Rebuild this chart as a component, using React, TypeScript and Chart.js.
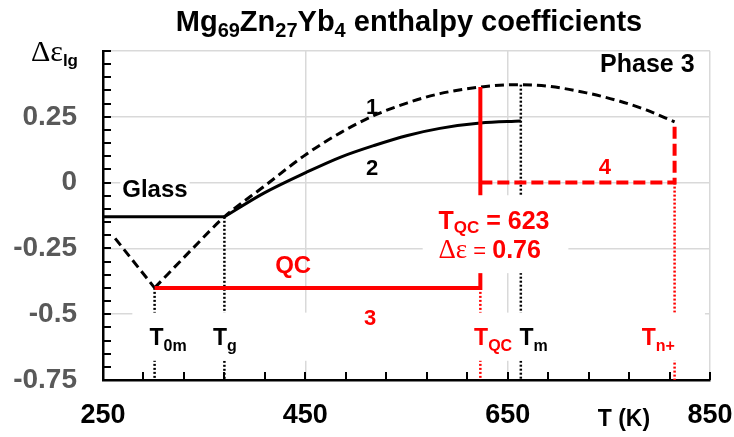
import React, { useEffect, useRef } from 'react';
import { Chart, registerables } from 'chart.js';

Chart.register(...registerables);

// ---------- data ----------
const X_MIN = 250;
const X_MAX = 850;
const X_STEP = 40;
const X_LABEL_STEP = 200;
const Y_MIN = -0.75;
const Y_MAX = 0.5;
const Y_STEP = 0.05;
const Y_LABEL_STEP = 0.25;

// characteristic temperatures (K)
const T_0M = 301;
const T_G = 370;
const T_QC = 623;
const T_M = 663;
const T_NPLUS = 815;

// curve 1 (dashed)
const curve1LeftT = [262, 301];
const curve1LeftE = [-0.212, -0.4];
const curve1T = [301, 340, 370, 409, 451, 485, 518, 551, 583, 623, 656, 688, 728, 761, 787, 815];
const curve1E = [-0.4, -0.245, -0.13, -0.015, 0.108, 0.19, 0.255, 0.303, 0.338, 0.363, 0.372, 0.367, 0.341, 0.309, 0.276, 0.231];

// glass line and curve 2 (solid)
const glassT = [250, 370];
const glassE = [-0.13, -0.13];
const curve2T = [370, 409, 451, 485, 518, 551, 583, 623, 663];
const curve2E = [-0.13, -0.04, 0.039, 0.097, 0.141, 0.179, 0.206, 0.226, 0.234];

// red construction lines
const qcLineT = [T_0M, T_QC, T_QC];
const qcLineE = [-0.4, -0.4, 0.363];
const phase4T = [T_QC, T_NPLUS, T_NPLUS];
const phase4E = [0, 0, 0.231];

// vertical dotted markers: [T, top value]
const blackMarkersT = [T_0M, T_G, T_M];
const blackMarkersTop = [-0.4, -0.13, 0.372];
const redMarkersT = [T_QC, T_NPLUS];
const redMarkersTop = [-0.4, 0];

const SANS = "'Liberation Sans', Arial, Helvetica, sans-serif";
const SERIF = "'Liberation Serif', 'Times New Roman', serif";
const RED = '#ff0000';
const GRID = '#d9d9d9';

type Seg = { t: string; size: number; sub?: number; serif?: boolean; normal?: boolean };

function fontOf(s: Seg) {
  return `${s.normal ? '' : 'bold '}${s.size}px ${s.serif ? SERIF : SANS}`;
}

function richWidth(ctx: CanvasRenderingContext2D, segs: Seg[]) {
  let w = 0;
  for (const s of segs) {
    ctx.font = fontOf(s);
    w += ctx.measureText(s.t).width;
  }
  return w;
}

function drawRich(
  ctx: CanvasRenderingContext2D,
  segs: Seg[],
  x: number,
  y: number,
  align: 'left' | 'center' | 'right',
  color: string,
  bg?: boolean
) {
  const w = richWidth(ctx, segs);
  let cx = align === 'left' ? x : align === 'center' ? x - w / 2 : x - w;
  if (bg) {
    ctx.fillStyle = '#fff';
    ctx.fillRect(cx - 2, y - segs[0].size * 0.78, w + 4, segs[0].size * 1.0);
  }
  ctx.fillStyle = color;
  ctx.textAlign = 'left';
  ctx.textBaseline = 'alphabetic';
  for (const s of segs) {
    ctx.font = fontOf(s);
    ctx.fillText(s.t, cx, y + (s.sub || 0));
    cx += ctx.measureText(s.t).width;
  }
}

const isMajor = (v: number, step: number) => Math.abs(Math.round(v / step) * step - v) < 1e-6;

const annotations = {
  id: 'annotations',
  afterDatasetsDraw(chart: any) {
    const { ctx, chartArea } = chart;
    const xs = chart.scales.x;
    const ys = chart.scales.y;
    const px = (t: number) => xs.getPixelForValue(t);
    const py = (v: number) => ys.getPixelForValue(v);
    ctx.save();

    // inside tick marks
    ctx.strokeStyle = '#000';
    ctx.lineWidth = 2;
    ctx.beginPath();
    for (const tk of ys.ticks) {
      const yy = Math.round(py(tk.value));
      ctx.moveTo(chartArea.left, yy);
      ctx.lineTo(chartArea.left + 8, yy);
    }
    for (const tk of xs.ticks) {
      const xx = Math.round(px(tk.value));
      ctx.moveTo(xx, chartArea.bottom);
      ctx.lineTo(xx, chartArea.bottom - 8);
    }
    ctx.stroke();

    // white text boxes
    ctx.fillStyle = '#fff';
    const box = (t0: number, t1: number, v0: number, v1: number) =>
      ctx.fillRect(px(t0), py(v0), px(t1) - px(t0), py(v1) - py(v0));
    box(566, 710, -0.048, -0.344);
    box(279, 845, -0.494, -0.677);

    // curve labels
    drawRich(ctx, [{ t: 'Glass', size: 24 }], px(269), py(-0.056), 'left', '#000', true);
    drawRich(ctx, [{ t: '1', size: 22 }], px(516), py(0.262), 'center', '#000');
    drawRich(ctx, [{ t: '2', size: 22 }], px(516), py(0.029), 'center', '#000');
    drawRich(ctx, [{ t: 'QC', size: 24 }], px(438), py(-0.345), 'center', RED);
    drawRich(ctx, [{ t: '3', size: 22 }], px(514), py(-0.541), 'center', RED);
    drawRich(ctx, [{ t: '4', size: 22 }], px(746), py(0.031), 'center', RED);
    drawRich(ctx, [{ t: 'Phase 3', size: 25 }], px(741.3), py(0.419), 'left', '#000');

    // TQC box text
    drawRich(
      ctx,
      [{ t: 'T', size: 25 }, { t: 'QC', size: 17, sub: 4 }, { t: ' = 623', size: 25 }],
      px(581.6), py(-0.178), 'left', RED
    );
    drawRich(
      ctx,
      [{ t: 'Δε', size: 27, serif: true, normal: true }, { t: ' = ', size: 22, normal: true }, { t: '0.76', size: 25 }],
      px(581.6), py(-0.288), 'left', RED
    );

    // temperature markers
    const tl = (main: string, sub: string, t: number, color: string) =>
      drawRich(ctx, [{ t: main, size: 23 }, { t: sub, size: 16, sub: 6 }], px(t), py(-0.617), 'left', color);
    tl('T', '0m', 296, '#000');
    tl('T', 'g', 358.7, '#000');
    tl('T', 'QC', 616.8, RED);
    tl('T', 'm', 661.6, '#000');
    tl('T', 'n+', 782.5, RED);

    ctx.restore();
  },
  afterDraw(chart: any) {
    const { ctx, chartArea } = chart;
    const xs = chart.scales.x;
    ctx.save();
    // title
    drawRich(
      ctx,
      [
        { t: 'Mg', size: 29 },
        { t: '69', size: 20, sub: 6 },
        { t: 'Zn', size: 29 },
        { t: '27', size: 20, sub: 6 },
        { t: 'Yb', size: 29 },
        { t: '4', size: 20, sub: 6 },
        { t: ' enthalpy coefficients', size: 29 },
      ],
      409, 31, 'center', '#000'
    );
    // y axis title
    drawRich(
      ctx,
      [{ t: 'Δε', size: 30, serif: true, normal: true }, { t: 'lg', size: 17, sub: 5 }],
      31, 61, 'left', '#000'
    );
    // x axis title
    drawRich(ctx, [{ t: 'T (K)', size: 23 }], xs.getPixelForValue(739), chartArea.bottom + 46, 'left', '#000');
    ctx.restore();
  },
};

function pts(xsArr: number[], ysArr: number[]) {
  return xsArr.map((x, i) => ({ x, y: ysArr[i] }));
}

export default function App() {
  const ref = useRef<HTMLCanvasElement>(null);

  useEffect(() => {
    if (!ref.current) return;
    const base = { pointRadius: 0, pointHoverRadius: 0, fill: false, borderCapStyle: 'butt' as const };
    const datasets: any[] = [
      { ...base, label: 'QC', data: pts(qcLineT, qcLineE), borderColor: RED, borderWidth: 4, tension: 0 },
      { ...base, label: 'phase4', data: pts(phase4T, phase4E), borderColor: RED, borderWidth: 4, borderDash: [12, 5], tension: 0 },
      { ...base, label: '1', data: pts(curve1T, curve1E), borderColor: '#000', borderWidth: 3, borderDash: [9, 5], cubicInterpolationMode: 'monotone' },
      { ...base, label: '1a', data: pts(curve1LeftT, curve1LeftE), borderColor: '#000', borderWidth: 3, borderDash: [9, 5], tension: 0 },
      { ...base, label: '2', data: pts(curve2T, curve2E), borderColor: '#000', borderWidth: 3, cubicInterpolationMode: 'monotone' },
      { ...base, label: 'glass', data: pts(glassT, glassE), borderColor: '#000', borderWidth: 3, tension: 0 },
      ...redMarkersT.map((t, i) => ({
        ...base, label: 'rm' + i, data: pts([t, t], [redMarkersTop[i], Y_MIN]), borderColor: RED, borderWidth: 2.5, borderDash: [2, 2],
      })),
      ...blackMarkersT.map((t, i) => ({
        ...base, label: 'bm' + i, data: pts([t, t], [blackMarkersTop[i], Y_MIN]), borderColor: '#000', borderWidth: 2.5, borderDash: [2, 2],
      })),
    ];

    const chart = new Chart(ref.current, {
      type: 'line',
      data: { datasets },
      options: {
        responsive: false,
        animation: false,
        devicePixelRatio: 1,
        layout: { padding: { left: 0, top: 51, right: 24, bottom: 0 } },
        plugins: { legend: { display: false }, tooltip: { enabled: false }, title: { display: false } },
        scales: {
          x: {
            type: 'linear',
            min: X_MIN,
            max: X_MAX,
            afterFit: (s: any) => {
              s.height = 57;
              s.paddingLeft = 0;
              s.paddingRight = 0;
            },
            ticks: {
              stepSize: X_STEP,
              autoSkip: false,
              maxRotation: 0,
              padding: 19,
              color: '#000',
              font: { family: SANS, size: 27, weight: 'bold' },
              callback: (v: any) => (isMajor(Number(v) - X_MIN, X_LABEL_STEP) ? String(v) : ''),
            },
            grid: {
              drawTicks: false,
              lineWidth: 1.5,
              color: (c: any) => {
                const v = c.tick ? c.tick.value : 0;
                return v > X_MIN && isMajor(v - X_MIN, X_LABEL_STEP) ? GRID : 'rgba(0,0,0,0)';
              },
            },
            border: { display: true, color: '#000', width: 2.5 },
          },
          y: {
            type: 'linear',
            min: Y_MIN,
            max: Y_MAX,
            afterFit: (s: any) => {
              s.width = 103;
              s.paddingTop = 0;
              s.paddingBottom = 0;
            },
            ticks: {
              stepSize: Y_STEP,
              autoSkip: false,
              padding: 26,
              color: '#595959',
              font: { family: SANS, size: 28, weight: 'bold' },
              callback: (v: any) => {
                const n = Number(v);
                if (!isMajor(n, Y_LABEL_STEP) || n >= Y_MAX - 1e-6) return '';
                return String(Math.round(n * 100) / 100);
              },
            },
            grid: {
              drawTicks: false,
              lineWidth: 1.5,
              color: (c: any) => {
                const v = c.tick ? c.tick.value : 0;
                return v > Y_MIN + 1e-6 && isMajor(v, Y_LABEL_STEP) ? GRID : 'rgba(0,0,0,0)';
              },
            },
            border: { display: true, color: '#000', width: 2.5 },
          },
        },
      },
      plugins: [annotations],
    });
    return () => chart.destroy();
  }, []);

  return (
    <div style={{ position: 'fixed', left: 0, top: 0, width: 734, height: 437, background: '#fff' }}>
      <canvas ref={ref} width={734} height={437} />
    </div>
  );
}
